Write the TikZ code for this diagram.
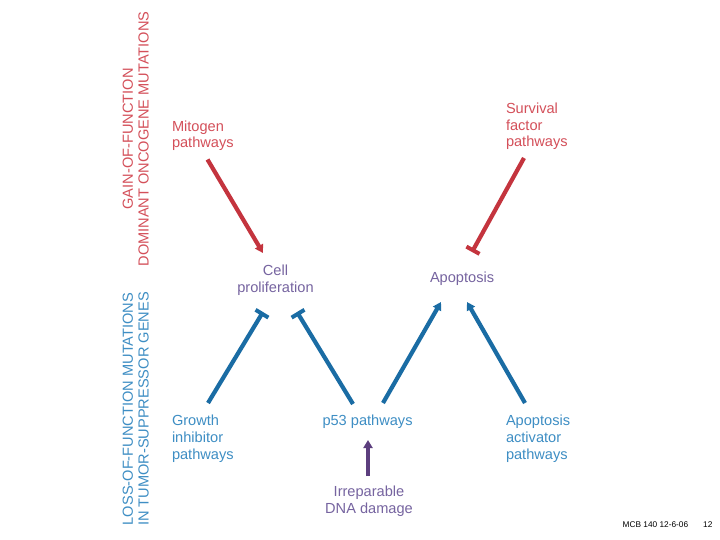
\documentclass[tikz,border=0pt]{standalone}
\usepackage{fontspec}
\setmainfont{Liberation Sans}
\usetikzlibrary{arrows.meta}
\definecolor{redtext}{RGB}{212,80,90}
\definecolor{redarrow}{RGB}{196,52,62}
\definecolor{bluetext}{RGB}{62,142,196}
\definecolor{bluearrow}{RGB}{26,108,164}
\definecolor{purptext}{RGB}{118,100,160}
\definecolor{purparrow}{RGB}{92,62,126}
\tikzset{
  lbl/.style={inner sep=0pt, outer sep=0pt, font=\fontsize{14.6}{16.8}\selectfont, align=left},
  vlbl/.style={inner sep=0pt, outer sep=0pt, font=\fontsize{14.6}{16.8}\selectfont, rotate=90, anchor=base},
  act/.style={line width=4.2pt, -{Triangle[width=9pt,length=8pt]}},
  inh/.style={line width=4.2pt, -{Bar[width=15pt,line width=4pt]}},
}
\begin{document}
\begin{tikzpicture}[x=1pt,y=-1pt]
\useasboundingbox (0,0) rectangle (720,540);
\fill[white] (0,0) rectangle (720,540);
% vertical labels
\node[vlbl, text=redtext] (gain) at (132.8,139) {GAIN-OF-FUNCTION};
\node[vlbl, text=redtext] (dom) at (148.6,139) {DOMINANT ONCOGENE MUTATIONS};
\node[vlbl, text=bluetext] (loss) at (132.8,409) {LOSS-OF-FUNCTION MUTATIONS};
\node[vlbl, text=bluetext] (intum) at (148.6,409) {IN TUMOR-SUPPRESSOR GENES};
% labels (base = baseline of the last line)
\node[lbl, text=redtext, anchor=base west] (mito) at (172,148) {Mitogen\\pathways};
\node[lbl, text=redtext, anchor=base west] (surv) at (506,147) {Survival\\factor\\pathways};
\node[lbl, text=purptext, anchor=base, align=center] (cell) at (275.5,292.5) {Cell\\proliferation};
\node[lbl, text=purptext, anchor=base west] (apop) at (430,282.7) {Apoptosis};
\node[lbl, text=bluetext, anchor=base west] (grow) at (172,459) {Growth\\inhibitor\\pathways};
\node[lbl, text=bluetext, anchor=base west] (p53) at (322.5,425.7) {p53 pathways};
\node[lbl, text=bluetext, anchor=base west] (apact) at (506,459) {Apoptosis\\activator\\pathways};
\node[lbl, text=purptext, anchor=base, align=center] (dna) at (369,513) {Irreparable\\DNA damage};
\node[inner sep=0pt, anchor=base west, font=\fontsize{8.3}{10}\selectfont] (mcb) at (622.5,527) {MCB 140 12-6-06};
\node[inner sep=0pt, anchor=base west, font=\fontsize{8.3}{10}\selectfont] (pg) at (703,527) {12};
% connector end points
\coordinate (mitoA) at (207.5,159.5);
\coordinate (cellA) at (263,253);
\coordinate (survA) at (524,158);
\coordinate (apopA) at (472,252);
\coordinate (growA) at (208,403);
\coordinate (cellB) at (263,312);
\coordinate (p53A) at (353,404);
\coordinate (cellC) at (297,312);
\coordinate (p53B) at (383,403);
\coordinate (apopB) at (441,302);
\coordinate (apactA) at (525,403);
\coordinate (apopC) at (467,302);
\coordinate (dnaA) at (368,476);
\coordinate (p53C) at (368,440);
% connectors
\draw[act, draw=redarrow, fill=redarrow] (mitoA) -- (cellA);
\draw[inh, draw=redarrow] (survA) -- (apopA);
\draw[inh, draw=bluearrow] (growA) -- (cellB);
\draw[inh, draw=bluearrow] (p53A) -- (cellC);
\draw[act, draw=bluearrow, fill=bluearrow] (p53B) -- (apopB);
\draw[act, draw=bluearrow, fill=bluearrow] (apactA) -- (apopC);
\draw[act, draw=purparrow, fill=purparrow] (dnaA) -- (p53C);
\end{tikzpicture}
\end{document}
